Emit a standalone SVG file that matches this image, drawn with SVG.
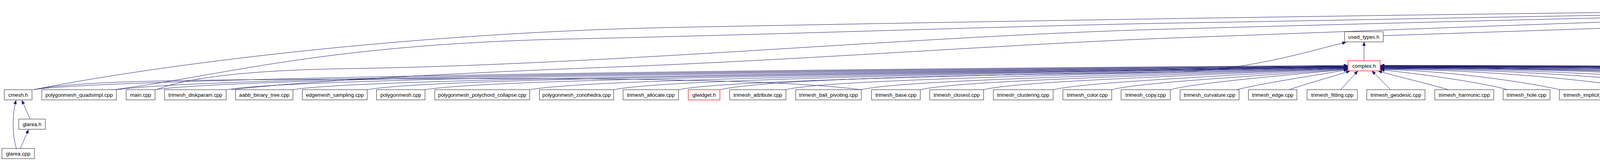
<svg xmlns="http://www.w3.org/2000/svg" width="6793" height="411" viewBox="0 0 6793 411">
<style>
.n rect{fill:#fff;stroke:#404040;stroke-width:1.2}
.n.r rect{stroke:#ff0000}
.n.g rect{fill:#bfbfbf}
.n text{font-family:"Liberation Sans",Arial,Helvetica,sans-serif;font-size:13.33px;text-anchor:middle;fill:#000}
.e path{fill:none;stroke:#191970;stroke-width:1;marker-end:url(#ah)}
.e path.nm{marker-end:none}
</style>
<defs>
<marker id="ah" markerWidth="10" markerHeight="8" refX="10" refY="4" orient="auto" markerUnits="userSpaceOnUse">
<path d="M0,0 L10,4 L0,8 z" fill="#191970" stroke="#191970" stroke-width="0.5"/>
</marker>
</defs>
<rect width="6793" height="411" fill="#fff"/>
<g id="connectors" class="e">
<!-- to base.h from far left -->
<path d="M86,229 C350,175 1000,85 1722,70 C2500,55 3500,38 4550,27 C4900,23 5300,19 5579,18"/>
<path d="M290,229 C560,195 820,115 1435,100 C2000,88 2600,66 3000,59 C3600,49 4600,27 5579,19"/>
<path d="M400,229 C500,190 700,178 900,175 C1200,170 1500,155 1913,130 C2400,100 2700,82 3000,74 C3600,58 4600,30 5579,20"/>
<path d="M592,229 C800,205 1200,185 1600,170 C2100,150 2600,112 3000,97 C3700,72 4600,32 5579,21"/>
<path d="M3541,91 C4000,76 4900,45 5579,22"/>
<path class="nm" d="M2205,229 C1950,196 1300,200 900,202 C500,204 200,205 86,229"/>
<!-- to base.h from below / right -->
<path d="M5200,229 C5320,165 5480,85 5585,32"/>
<path d="M5371,229 L5594,32"/>
<path d="M5560,229 L5606,32"/>
<path d="M5716,229 C5690,160 5650,90 5620,32"/>
<path d="M5861,229 C5800,170 5690,90 5630,32"/>
<path d="M6035,229 C5950,180 5780,90 5636,32"/>
<path d="M6190,229 C6050,180 5820,100 5641,31"/>
<path d="M6309,229 C6100,165 5850,85 5642,28"/>
<path d="M6420,229 C6150,150 5850,75 5642,25"/>
<path d="M6549,229 C6200,140 5880,70 5642,22"/>
<path d="M6685,229 C6300,140 5900,60 5642,19"/>
<!-- to used_types.h -->
<path d="M3492,155 L3492,107"/>
<path d="M1843,229 C2000,195 2700,190 3000,184 C3200,180 3350,130 3446,108"/>
<!-- to complex.h from left -->
<path d="M84,229 C250,204 1500,180 3450,167"/>
<path d="M300,229 C500,200 1700,182 3450,168"/>
<path d="M397,229 C600,200 1800,184 3450,169"/>
<path d="M580,229 C750,200 1900,186 3450,170"/>
<path d="M750,229 C900,203 2000,188 3450,169"/>
<path d="M940,229 C1100,200 2100,190 3450,170"/>
<path d="M1088,229 C1250,202 2200,190 3450,171"/>
<path d="M1356,229 C1500,203 2300,190 3450,171"/>
<path d="M1571,229 C1700,203 2400,190 3450,172"/>
<path d="M1737,229 C1850,205 2500,192 3450,172"/>
<path d="M2012,229 C2100,205 2700,192 3450,173"/>
<path d="M2205,229 C2300,206 2800,194 3450,173"/>
<path d="M2356,229 C2450,207 2900,195 3450,174"/>
<path d="M2518,229 C2600,208 3000,196 3450,174"/>
<path d="M2696,229 C2780,210 3100,196 3450,175"/>
<path d="M2846,229 C2920,210 3200,196 3450,176"/>
<path d="M2996,229 C3060,212 3250,196 3450,177"/>
<path d="M3166,229 C3230,213 3350,195 3450,178"/>
<path d="M3300,229 C3350,212 3420,193 3456,181"/>
<path d="M3432,229 L3476,181"/>
<!-- to complex.h from right -->
<path d="M3560,229 L3512,181"/>
<path d="M3708,229 C3650,212 3570,194 3528,181"/>
<path d="M3860,229 C3800,212 3650,190 3534,178"/>
<path d="M3994,229 C3900,208 3700,180 3534,177"/>
<path d="M4206,229 C4100,206 3800,178 3534,176"/>
<path d="M4376,229 C4250,205 3900,177 3534,175"/>
<path d="M4531,229 C4400,205 4000,176 3534,174"/>
<path d="M4720,229 C4580,204 4100,175 3534,173"/>
<path d="M4824,229 C4680,204 4200,174 3534,173"/>
<path d="M4924,229 C4780,203 4250,174 3534,172"/>
<path d="M5081,229 C4930,202 4350,173 3534,172"/>
<path d="M5276,229 C5100,201 4450,172 3534,171"/>
<path d="M5466,229 C5280,200 4550,172 3534,171"/>
<path d="M5676,229 C5480,200 4650,171 3534,170"/>
<path d="M5798,229 C5600,200 4700,171 3534,170"/>
<path d="M5979,229 C5780,199 4800,170 3534,169"/>
<path d="M6169,229 C5950,199 4900,170 3534,169"/>
<path d="M6304,229 C6080,198 5000,169 3534,168"/>
<path d="M6418,229 C6200,198 5100,169 3534,168"/>
<path d="M6531,229 C6300,197 5200,168 3534,167"/>
<path d="M6675,229 C6450,197 5300,168 3534,167"/>
<!-- cmesh subtree -->
<path d="M77,304 L56,256"/>
<path d="M42,379 C30,340 32,290 41,256"/>
<path d="M52,379 L73,331"/>
<!-- mesh_type subtree -->
<path d="M5689,304 L5713,256"/>
<path d="M5758,379 L5727,256"/>
<path d="M5650,379 L5674,331"/>
<path d="M5747,379 L5697,331"/>
</g>
<g id="n_base_h" class="n g"><rect x="5580" y="5" width="61" height="26"/><text x="5610.5" y="22.5">base.h</text></g>
<g id="n_used_types_h" class="n"><rect x="3442" y="81" width="99" height="26"/><text x="3491.5" y="98.5">used_types.h</text></g>
<g id="n_complex_h" class="n r"><rect x="3451" y="155" width="82" height="26"/><text x="3492" y="172.5">complex.h</text></g>
<g id="n_cmesh_h" class="n"><rect x="11" y="229" width="71" height="26"/><text x="46.5" y="246.5">cmesh.h</text></g>
<g id="n_polygonmesh_quadsimpl" class="n"><rect x="107" y="229" width="191" height="26"/><text x="202.5" y="246.5">polygonmesh_quadsimpl.cpp</text></g>
<g id="n_main1" class="n"><rect x="323" y="229" width="74" height="26"/><text x="360" y="246.5">main.cpp</text></g>
<g id="n_trimesh_diskparam" class="n"><rect x="421" y="229" width="158" height="26"/><text x="500" y="246.5">trimesh_diskparam.cpp</text></g>
<g id="n_aabb_binary_tree" class="n"><rect x="603" y="229" width="147" height="26"/><text x="676.5" y="246.5">aabb_binary_tree.cpp</text></g>
<g id="n_edgemesh_sampling" class="n"><rect x="774" y="229" width="166" height="26"/><text x="857" y="246.5">edgemesh_sampling.cpp</text></g>
<g id="n_polygonmesh" class="n"><rect x="964" y="229" width="124" height="26"/><text x="1026" y="246.5">polygonmesh.cpp</text></g>
<g id="n_polygonmesh_polychord_collapse" class="n"><rect x="1113" y="229" width="243" height="26"/><text x="1234.5" y="246.5">polygonmesh_polychord_collapse.cpp</text></g>
<g id="n_polygonmesh_zonohedra" class="n"><rect x="1381" y="229" width="190" height="26"/><text x="1476" y="246.5">polygonmesh_zonohedra.cpp</text></g>
<g id="n_trimesh_allocate" class="n"><rect x="1595" y="229" width="142" height="26"/><text x="1666" y="246.5">trimesh_allocate.cpp</text></g>
<g id="n_glwidget_h_a" class="n r"><rect x="1762" y="229" width="81" height="26"/><text x="1802.5" y="246.5">glwidget.h</text></g>
<g id="n_trimesh_attribute" class="n"><rect x="1868" y="229" width="144" height="26"/><text x="1940" y="246.5">trimesh_attribute.cpp</text></g>
<g id="n_trimesh_ball_pivoting" class="n"><rect x="2037" y="229" width="168" height="26"/><text x="2121" y="246.5">trimesh_ball_pivoting.cpp</text></g>
<g id="n_trimesh_base" class="n"><rect x="2231" y="229" width="125" height="26"/><text x="2293.5" y="246.5">trimesh_base.cpp</text></g>
<g id="n_trimesh_closest" class="n"><rect x="2380" y="229" width="138" height="26"/><text x="2449" y="246.5">trimesh_closest.cpp</text></g>
<g id="n_trimesh_clustering" class="n"><rect x="2543" y="229" width="153" height="26"/><text x="2619.5" y="246.5">trimesh_clustering.cpp</text></g>
<g id="n_trimesh_color" class="n"><rect x="2721" y="229" width="125" height="26"/><text x="2783.5" y="246.5">trimesh_color.cpp</text></g>
<g id="n_trimesh_copy" class="n"><rect x="2870" y="229" width="126" height="26"/><text x="2933" y="246.5">trimesh_copy.cpp</text></g>
<g id="n_trimesh_curvature" class="n"><rect x="3021" y="229" width="151" height="26"/><text x="3096.5" y="246.5">trimesh_curvature.cpp</text></g>
<g id="n_trimesh_edge" class="n"><rect x="3196" y="229" width="124" height="26"/><text x="3258" y="246.5">trimesh_edge.cpp</text></g>
<g id="n_trimesh_fitting" class="n"><rect x="3346" y="229" width="129" height="26"/><text x="3410.5" y="246.5">trimesh_fitting.cpp</text></g>
<g id="n_trimesh_geodesic" class="n"><rect x="3499" y="229" width="149" height="26"/><text x="3573.5" y="246.5">trimesh_geodesic.cpp</text></g>
<g id="n_trimesh_harmonic" class="n"><rect x="3673" y="229" width="151" height="26"/><text x="3748.5" y="246.5">trimesh_harmonic.cpp</text></g>
<g id="n_trimesh_hole" class="n"><rect x="3848" y="229" width="120" height="26"/><text x="3908" y="246.5">trimesh_hole.cpp</text></g>
<g id="n_trimesh_implicit_smooth" class="n"><rect x="3992" y="229" width="189" height="26"/><text x="4086.5" y="246.5">trimesh_implicit_smooth.cpp</text></g>
<g id="n_trimesh_indexing" class="n"><rect x="4204" y="229" width="146" height="26"/><text x="4277" y="246.5">trimesh_indexing.cpp</text></g>
<g id="n_trimesh_inertia" class="n"><rect x="4374" y="229" width="132" height="26"/><text x="4440" y="246.5">trimesh_inertia.cpp</text></g>
<g id="n_trimesh_intersection" class="n"><rect x="4529" y="229" width="165" height="26"/><text x="4611.5" y="246.5">trimesh_intersection.cpp</text></g>
<g id="n_metro" class="n"><rect x="4718" y="229" width="81" height="26"/><text x="4758.5" y="246.5">metro.cpp</text></g>
<g id="n_main2" class="n"><rect x="4822" y="229" width="75" height="26"/><text x="4859.5" y="246.5">main.cpp</text></g>
<g id="n_quadrangulator" class="n"><rect x="4922" y="229" width="132" height="26"/><text x="4988" y="246.5">quadrangulator.cpp</text></g>
<g id="n_trimesh_optional_occ" class="n"><rect x="5079" y="229" width="170" height="26"/><text x="5164" y="246.5">trimesh_optional_occ.cpp</text></g>
<g id="n_trimesh_optional_ocf" class="n"><rect x="5274" y="229" width="166" height="26"/><text x="5357" y="246.5">trimesh_optional_ocf.cpp</text></g>
<g id="n_trimesh_simpdata_simp" class="n"><rect x="5464" y="229" width="186" height="26"/><text x="5557" y="246.5">trimesh_simpdata_simp.cpp</text></g>
<g id="n_mesh_type_h" class="n"><rect x="5674" y="229" width="97" height="26"/><text x="5722.5" y="246.5">mesh_type.h</text></g>
<g id="n_trimesh_pos_demo" class="n"><rect x="5796" y="229" width="157" height="26"/><text x="5874.5" y="246.5">trimesh_pos_demo.cpp</text></g>
<g id="n_trimesh_vfiter_demo" class="n"><rect x="5977" y="229" width="166" height="26"/><text x="6060" y="246.5">trimesh_vfiter_demo.cpp</text></g>
<g id="n_trimeshinfo" class="n"><rect x="6167" y="229" width="111" height="26"/><text x="6222.5" y="246.5">trimeshinfo.cpp</text></g>
<g id="n_ptx2ply" class="n"><rect x="6302" y="229" width="89" height="26"/><text x="6346.5" y="246.5">ptx2ply.cpp</text></g>
<g id="n_texdeci" class="n"><rect x="6416" y="229" width="89" height="26"/><text x="6460.5" y="246.5">texdeci.cpp</text></g>
<g id="n_trackball_sdl" class="n"><rect x="6529" y="229" width="120" height="26"/><text x="6589" y="246.5">trackball_sdl.cpp</text></g>
<g id="n_trimesh_sdl" class="n"><rect x="6673" y="229" width="115" height="26"/><text x="6730.5" y="246.5">trimesh_sdl.cpp</text></g>
<g id="n_glarea_h" class="n"><rect x="48" y="304" width="68" height="26"/><text x="82" y="321.5">glarea.h</text></g>
<g id="n_glarea_cpp" class="n"><rect x="5" y="379" width="83" height="26"/><text x="46.5" y="396.5">glarea.cpp</text></g>
<g id="n_glwidget_h_b" class="n"><rect x="5642" y="304" width="81" height="26"/><text x="5682.5" y="321.5">glwidget.h</text></g>
<g id="n_glwidget_cpp" class="n"><rect x="5596" y="379" width="95" height="26"/><text x="5643.5" y="396.5">glwidget.cpp</text></g>
<g id="n_window_cpp" class="n"><rect x="5716" y="379" width="91" height="26"/><text x="5761.5" y="396.5">window.cpp</text></g>
</svg>
